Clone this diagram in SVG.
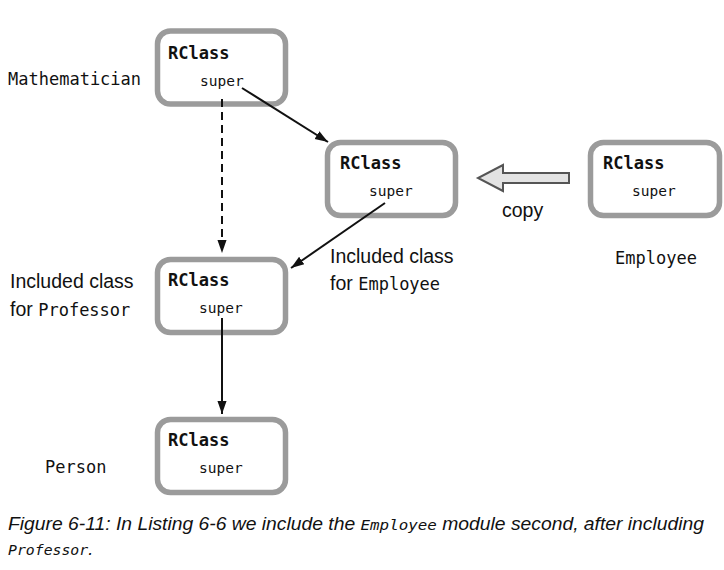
<svg xmlns="http://www.w3.org/2000/svg" width="724" height="570" viewBox="0 0 724 570">
<defs>
<marker id="ah" viewBox="0 0 10 10" refX="10" refY="5" markerWidth="13" markerHeight="13" markerUnits="userSpaceOnUse" orient="auto">
<path d="M0,1.5 L10,5 L0,8.5 Z" fill="#111"/>
</marker>
<style>
.box{fill:#fff;stroke:#9b9b9b;stroke-width:5.5}
.rc{font-family:"DejaVu Sans Mono","Liberation Mono",monospace;font-weight:bold;font-size:17px;fill:#111}
.sp{font-family:"DejaVu Sans Mono","Liberation Mono",monospace;font-size:14.5px;fill:#111}
.mono{font-family:"DejaVu Sans Mono","Liberation Mono",monospace;font-size:17px;fill:#111}
.sans{font-family:"Liberation Sans","DejaVu Sans",sans-serif;font-size:19.5px;fill:#111}
.cap{font-family:"Liberation Sans","DejaVu Sans",sans-serif;font-style:italic;font-size:18px;fill:#111}
.capm{font-family:"DejaVu Sans Mono","Liberation Mono",monospace;font-style:italic;font-size:14.8px}
.ln{stroke:#111;stroke-width:2;fill:none}
</style>
</defs>
<rect width="724" height="570" fill="#fff"/>
<g id="mathematician">
<rect class="box" x="157.5" y="31" width="128" height="73" rx="13"/>
<text class="rc" x="168" y="59">RClass</text>
<text class="sp" x="200" y="86">super</text>
<text class="mono" x="8" y="85">Mathematician</text>
</g>
<g id="included-employee">
<rect class="box" x="327.5" y="142.5" width="128" height="73" rx="13"/>
<text class="rc" x="340" y="169">RClass</text>
<text class="sp" x="369" y="196">super</text>
<text class="sans" x="330" y="263">Included class</text>
<text class="sans" x="330" y="290">for <tspan class="mono">Employee</tspan></text>
</g>
<g id="employee">
<rect class="box" x="590.5" y="142.5" width="129" height="73" rx="13"/>
<text class="rc" x="603" y="169">RClass</text>
<text class="sp" x="632" y="196">super</text>
<text class="mono" x="615" y="264">Employee</text>
</g>
<g id="included-professor">
<rect class="box" x="157.5" y="259.5" width="128" height="73" rx="13"/>
<text class="rc" x="168" y="286">RClass</text>
<text class="sp" x="199" y="313">super</text>
<text class="sans" x="10" y="288">Included class</text>
<text class="sans" x="10" y="316">for <tspan class="mono">Professor</tspan></text>
</g>
<g id="person">
<rect class="box" x="157.5" y="419.5" width="128" height="73" rx="13"/>
<text class="rc" x="168" y="446">RClass</text>
<text class="sp" x="199" y="473">super</text>
<text class="mono" x="45" y="473">Person</text>
</g>
<g id="connectors">
<line class="ln" x1="242" y1="88" x2="328" y2="142" marker-end="url(#ah)"/>
<line class="ln" x1="222" y1="99" x2="222" y2="253" stroke-dasharray="8,5" marker-end="url(#ah)"/>
<line class="ln" x1="385" y1="203" x2="291" y2="268" marker-end="url(#ah)"/>
<line class="ln" x1="222" y1="318" x2="222" y2="414" marker-end="url(#ah)"/>
<path d="M569,173 L503,173 L503,165 L478,178 L503,191 L503,183 L569,183 Z" fill="#e3e3e3" stroke="#555" stroke-width="2" stroke-linejoin="miter"/>
<text class="sans" x="502" y="217">copy</text>
</g>
<g id="caption">
<text class="cap" x="8" y="530" textLength="696" lengthAdjust="spacingAndGlyphs">Figure 6-11: In Listing 6-6 we include the <tspan class="capm">Employee</tspan> module second, after including</text>
<text class="cap" x="8" y="555"><tspan class="capm">Professor</tspan>.</text>
</g>
</svg>
